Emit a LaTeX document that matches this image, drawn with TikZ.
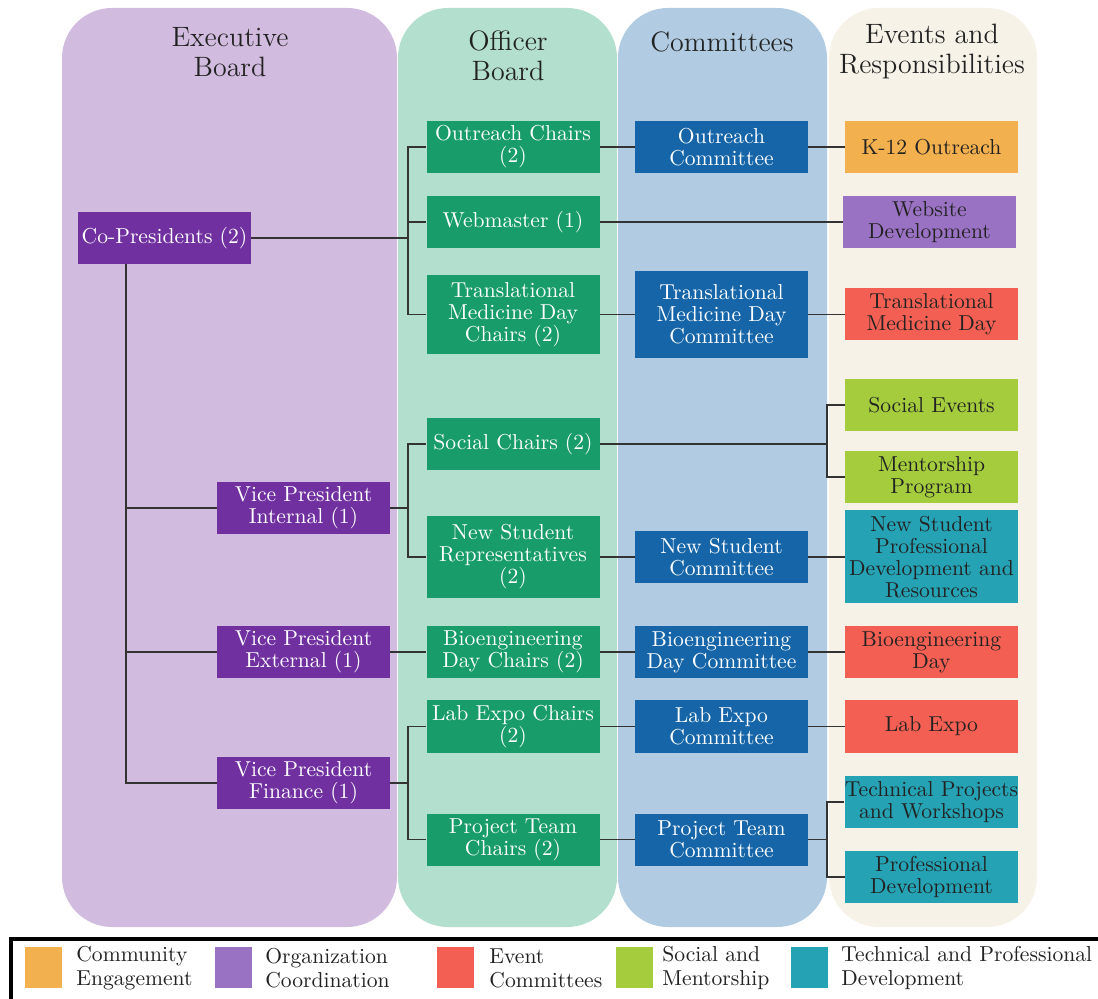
\documentclass[tikz,border=0pt]{standalone}
\usepackage{tikz}
\definecolor{bgexec}{HTML}{D1BCDF}
\definecolor{bgoff}{HTML}{B3DFCF}
\definecolor{bgcom}{HTML}{B1CCE2}
\definecolor{bgev}{HTML}{F6F2E8}
\definecolor{cpurple}{HTML}{7030A0}
\definecolor{cgreen}{HTML}{189C6A}
\definecolor{cblue}{HTML}{1565A8}
\definecolor{corange}{HTML}{F3B04E}
\definecolor{clav}{HTML}{9A72C4}
\definecolor{cred}{HTML}{F35F52}
\definecolor{clime}{HTML}{A5CC3D}
\definecolor{cteal}{HTML}{25A3B4}
\definecolor{tdark}{HTML}{222222}
\definecolor{lnk}{HTML}{333333}
\tikzset{
  base/.style={rectangle, inner sep=0pt, align=center, font=\fontsize{10.8}{11}\selectfont, minimum width=86.5pt, minimum height=26pt},
  exbox/.style={base, fill=cpurple, text=white},
  offbox/.style={base, fill=cgreen, text=white},
  combox/.style={base, fill=cblue, text=white},
  evbox/.style={base, text=tdark},
  title/.style={align=center, text=tdark, font=\fontsize{14}{15}\selectfont},
  link/.style={draw=lnk, line width=0.65pt},
  swatch/.style={rectangle, inner sep=0pt, minimum width=18.5pt, minimum height=20.5pt},
  legtext/.style={anchor=west, align=left, inner sep=0pt, text=tdark, font=\fontsize{10.8}{12}\selectfont},
  colbg/.style={rounded corners=25pt}
}
\begin{document}
\begin{tikzpicture}[x=0.5pt, y=-0.5pt]
\useasboundingbox (0,0) rectangle (1098,999);
\clip (0,0) rectangle (1098,999);
\fill[white] (0,0) rectangle (1098,999);
% column backgrounds
\fill[bgexec, colbg] (62,8) rectangle (397,927);
\fill[bgoff, colbg] (398,8) rectangle (617,927);
\fill[bgcom, colbg] (618,8) rectangle (827,927);
\fill[bgev, colbg] (829,8) rectangle (1037,927);
% titles
\node[title] (t1) at (230,52) {Executive\\Board};
\node[title] (t2) at (508,56) {Officer\\Board};
\node[title] (t3) at (722,42) {Committees};
\node[title] (t4) at (932,52) {Events and\\Responsibilities};
% executive board
\node[exbox] (cop) at (164.5,238) {Co-Presidents (2)};
\node[exbox] (vpi) at (303.5,508) {Vice President\\Internal (1)};
\node[exbox] (vpe) at (303.5,652) {Vice President\\External (1)};
\node[exbox] (vpf) at (303.5,783) {Vice President\\Finance (1)};
% officer board
\node[offbox] (oc) at (513,147) {Outreach Chairs\\(2)};
\node[offbox] (wm) at (513,222) {Webmaster (1)};
\node[offbox, minimum height=39.5pt] (tmdc) at (513,314.5) {Translational\\Medicine Day\\Chairs (2)};
\node[offbox] (sc) at (513,444) {Social Chairs (2)};
\node[offbox, minimum height=41pt] (nsr) at (513,557) {New Student\\Representatives\\(2)};
\node[offbox] (bdc) at (513,652) {Bioengineering\\Day Chairs (2)};
\node[offbox] (lec) at (513,726.5) {Lab Expo Chairs\\(2)};
\node[offbox] (ptc) at (513,839.5) {Project Team\\Chairs (2)};
% committees
\node[combox] (ocm) at (721.5,147) {Outreach\\Committee};
\node[combox, minimum height=43.5pt] (tmdm) at (721.5,314.5) {Translational\\Medicine Day\\Committee};
\node[combox] (nsc) at (721.5,557) {New Student\\Committee};
\node[combox] (bdm) at (721.5,652) {Bioengineering\\Day Committee};
\node[combox] (lem) at (721.5,726.5) {Lab Expo\\Committee};
\node[combox] (ptm) at (721.5,839.5) {Project Team\\Committee};
% events
\node[evbox, fill=corange] (k12) at (931.5,147) {K-12 Outreach};
\node[evbox, fill=clav] (wd) at (929.5,222) {Website\\Development};
\node[evbox, fill=cred] (tmd) at (931.5,314.5) {Translational\\Medicine Day};
\node[evbox, fill=clime] (se) at (931.5,405) {Social Events};
\node[evbox, fill=clime] (mp) at (931.5,477) {Mentorship\\Program};
\node[evbox, fill=cteal, minimum height=46.5pt] (nspd) at (931.5,557) {New Student\\Professional\\Development and\\Resources};
\node[evbox, fill=cred] (bd) at (931.5,652) {Bioengineering\\Day};
\node[evbox, fill=cred] (le) at (931.5,726.5) {Lab Expo};
\node[evbox, fill=cteal] (tpw) at (931.5,802) {Technical Projects\\and Workshops};
\node[evbox, fill=cteal] (pd) at (931.5,877) {Professional\\Development};
% bus coordinates
\coordinate (b1) at (408,238);
\coordinate (cv) at (126,264);
\coordinate (b2) at (408,508);
\coordinate (b3) at (408,783);
\coordinate (b5) at (827,444);
\coordinate (b6) at (827,839.5);
% connectors
\draw[link] (cop.east) -- (b1);
\draw[link] (oc.west) -| (b1);
\draw[link] (tmdc.west) -| (b1);
\draw[link] (wm.west) -- (wm.west -| b1);
\draw[link] (cv) |- (vpf.west);
\draw[link] (vpi.west) -| (cv);
\draw[link] (vpe.west) -| (cv);
\draw[link] (vpi.east) -- (b2);
\draw[link] (sc.west) -| (b2);
\draw[link] (nsr.west) -| (b2);
\draw[link] (vpe.east) -- (bdc.west);
\draw[link] (vpf.east) -- (b3);
\draw[link] (lec.west) -| (b3);
\draw[link] (ptc.west) -| (b3);
\draw[link] (oc.east) -- (ocm.west);
\draw[link] (ocm.east) -- (k12.west);
\draw[link] (wm.east) -- (wd.west);
\draw[link] (tmdc.east) -- (tmdm.west);
\draw[link] (tmdm.east) -- (tmd.west);
\draw[link] (sc.east) -- (b5);
\draw[link] (se.west) -| (b5);
\draw[link] (mp.west) -| (b5);
\draw[link] (nsr.east) -- (nsc.west);
\draw[link] (nsc.east) -- (nspd.west);
\draw[link] (bdc.east) -- (bdm.west);
\draw[link] (bdm.east) -- (bd.west);
\draw[link] (lec.east) -- (lem.west);
\draw[link] (lem.east) -- (le.west);
\draw[link] (ptc.east) -- (ptm.west);
\draw[link] (ptm.east) -- (b6);
\draw[link] (tpw.west) -| (b6);
\draw[link] (pd.west) -| (b6);
% legend
\draw[black, line width=2pt] (11,939) rectangle (1120,1030);
\node[swatch, fill=corange] (s1) at (43.5,967) {};
\node[swatch, fill=clav] (s2) at (233,967) {};
\node[swatch, fill=cred] (s3) at (455.5,967) {};
\node[swatch, fill=clime] (s4) at (634,967) {};
\node[swatch, fill=cteal] (s5) at (809,967) {};
\node[legtext] (l1) at (76,968) {Community\\Engagement};
\node[legtext] (l2) at (265,968) {Organization\\Coordination};
\node[legtext] (l3) at (489,968) {Event\\Committees};
\node[legtext] (l4) at (662,968) {Social and\\Mentorship};
\node[legtext] (l5) at (841,968) {Technical and Professional\\Development};
\end{tikzpicture}
\end{document}
